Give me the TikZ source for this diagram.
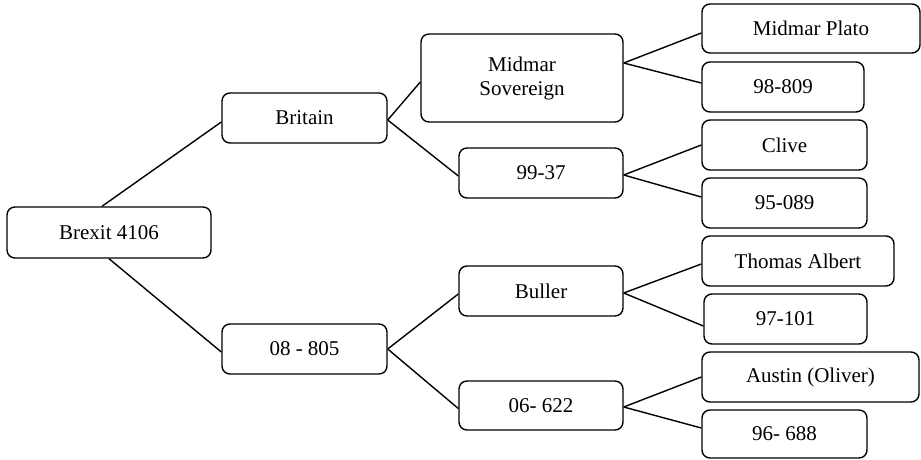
\documentclass[tikz,border=0pt]{standalone}
\usepackage{fontspec}
\setmainfont{Liberation Serif}
\begin{document}
\begin{tikzpicture}[x=1pt,y=-1pt,
  box/.style={draw=black,line width=1.4pt,rounded corners=8pt,align=center,
    inner sep=0pt,font=\fontsize{21}{24}\selectfont},
  link/.style={draw=black,line width=1.4pt}]
\useasboundingbox (0,0) rectangle (921,460);
\node[box,minimum width=204pt,minimum height=51pt] (brexit) at (109,232.5) {Brexit 4106};
\node[box,minimum width=165pt,minimum height=50pt] (britain) at (304.5,118) {Britain};
\node[box,minimum width=165pt,minimum height=50pt] (n08) at (304.5,349) {08 - 805};
\node[box,minimum width=202pt,minimum height=88pt] (ms) at (522,78) {Midmar\\Sovereign};
\node[box,minimum width=164pt,minimum height=50pt] (n9937) at (541,173) {99-37};
\node[box,minimum width=164pt,minimum height=50pt] (buller) at (541,291) {Buller};
\node[box,minimum width=164pt,minimum height=49pt] (n06) at (541,405.5) {06- 622};
\node[box,minimum width=218pt,minimum height=49pt] (plato) at (811,28.5) {Midmar Plato};
\node[box,minimum width=162pt,minimum height=50pt] (n98) at (783,87) {98-809};
\node[box,minimum width=165pt,minimum height=50pt] (clive) at (784.5,145) {Clive};
\node[box,minimum width=165pt,minimum height=50pt] (n95) at (784.5,203) {95-089};
\node[box,minimum width=192pt,minimum height=50pt] (thomas) at (798,261) {Thomas Albert};
\node[box,minimum width=163pt,minimum height=50pt] (n97) at (785.5,319) {97-101};
\node[box,minimum width=217pt,minimum height=50pt] (austin) at (810.5,377) {Austin (Oliver)};
\node[box,minimum width=165pt,minimum height=48pt] (n96) at (784.5,434) {96- 688};
\draw[link] ([xshift=-7pt]brexit.north) -- ([yshift=-4pt]britain.west);
\draw[link] (brexit.south) -- ([yshift=-3pt]n08.west);
\draw[link] ([yshift=-2pt]britain.east) -- ([yshift=-4pt]ms.west);
\draw[link] ([yshift=-2pt]britain.east) -- ([yshift=-3pt]n9937.west);
\draw[link] ([yshift=0pt]n08.east) -- ([yshift=-3pt]buller.west);
\draw[link] ([yshift=0pt]n08.east) -- ([yshift=-3pt]n06.west);
\draw[link] ([yshift=15pt]ms.east) -- ([yshift=-4.5pt]plato.west);
\draw[link] ([yshift=15pt]ms.east) -- ([yshift=4pt]n98.west);
\draw[link] ([yshift=-2pt]n9937.east) -- (clive.west);
\draw[link] ([yshift=-2pt]n9937.east) -- ([yshift=6pt]n95.west);
\draw[link] ([yshift=-2pt]buller.east) -- ([yshift=-3pt]thomas.west);
\draw[link] ([yshift=-2pt]buller.east) -- ([yshift=-7pt]n97.west);
\draw[link] ([yshift=-1.5pt]n06.east) -- (austin.west);
\draw[link] ([yshift=-1.5pt]n06.east) -- ([yshift=6pt]n96.west);
\end{tikzpicture}
\end{document}
